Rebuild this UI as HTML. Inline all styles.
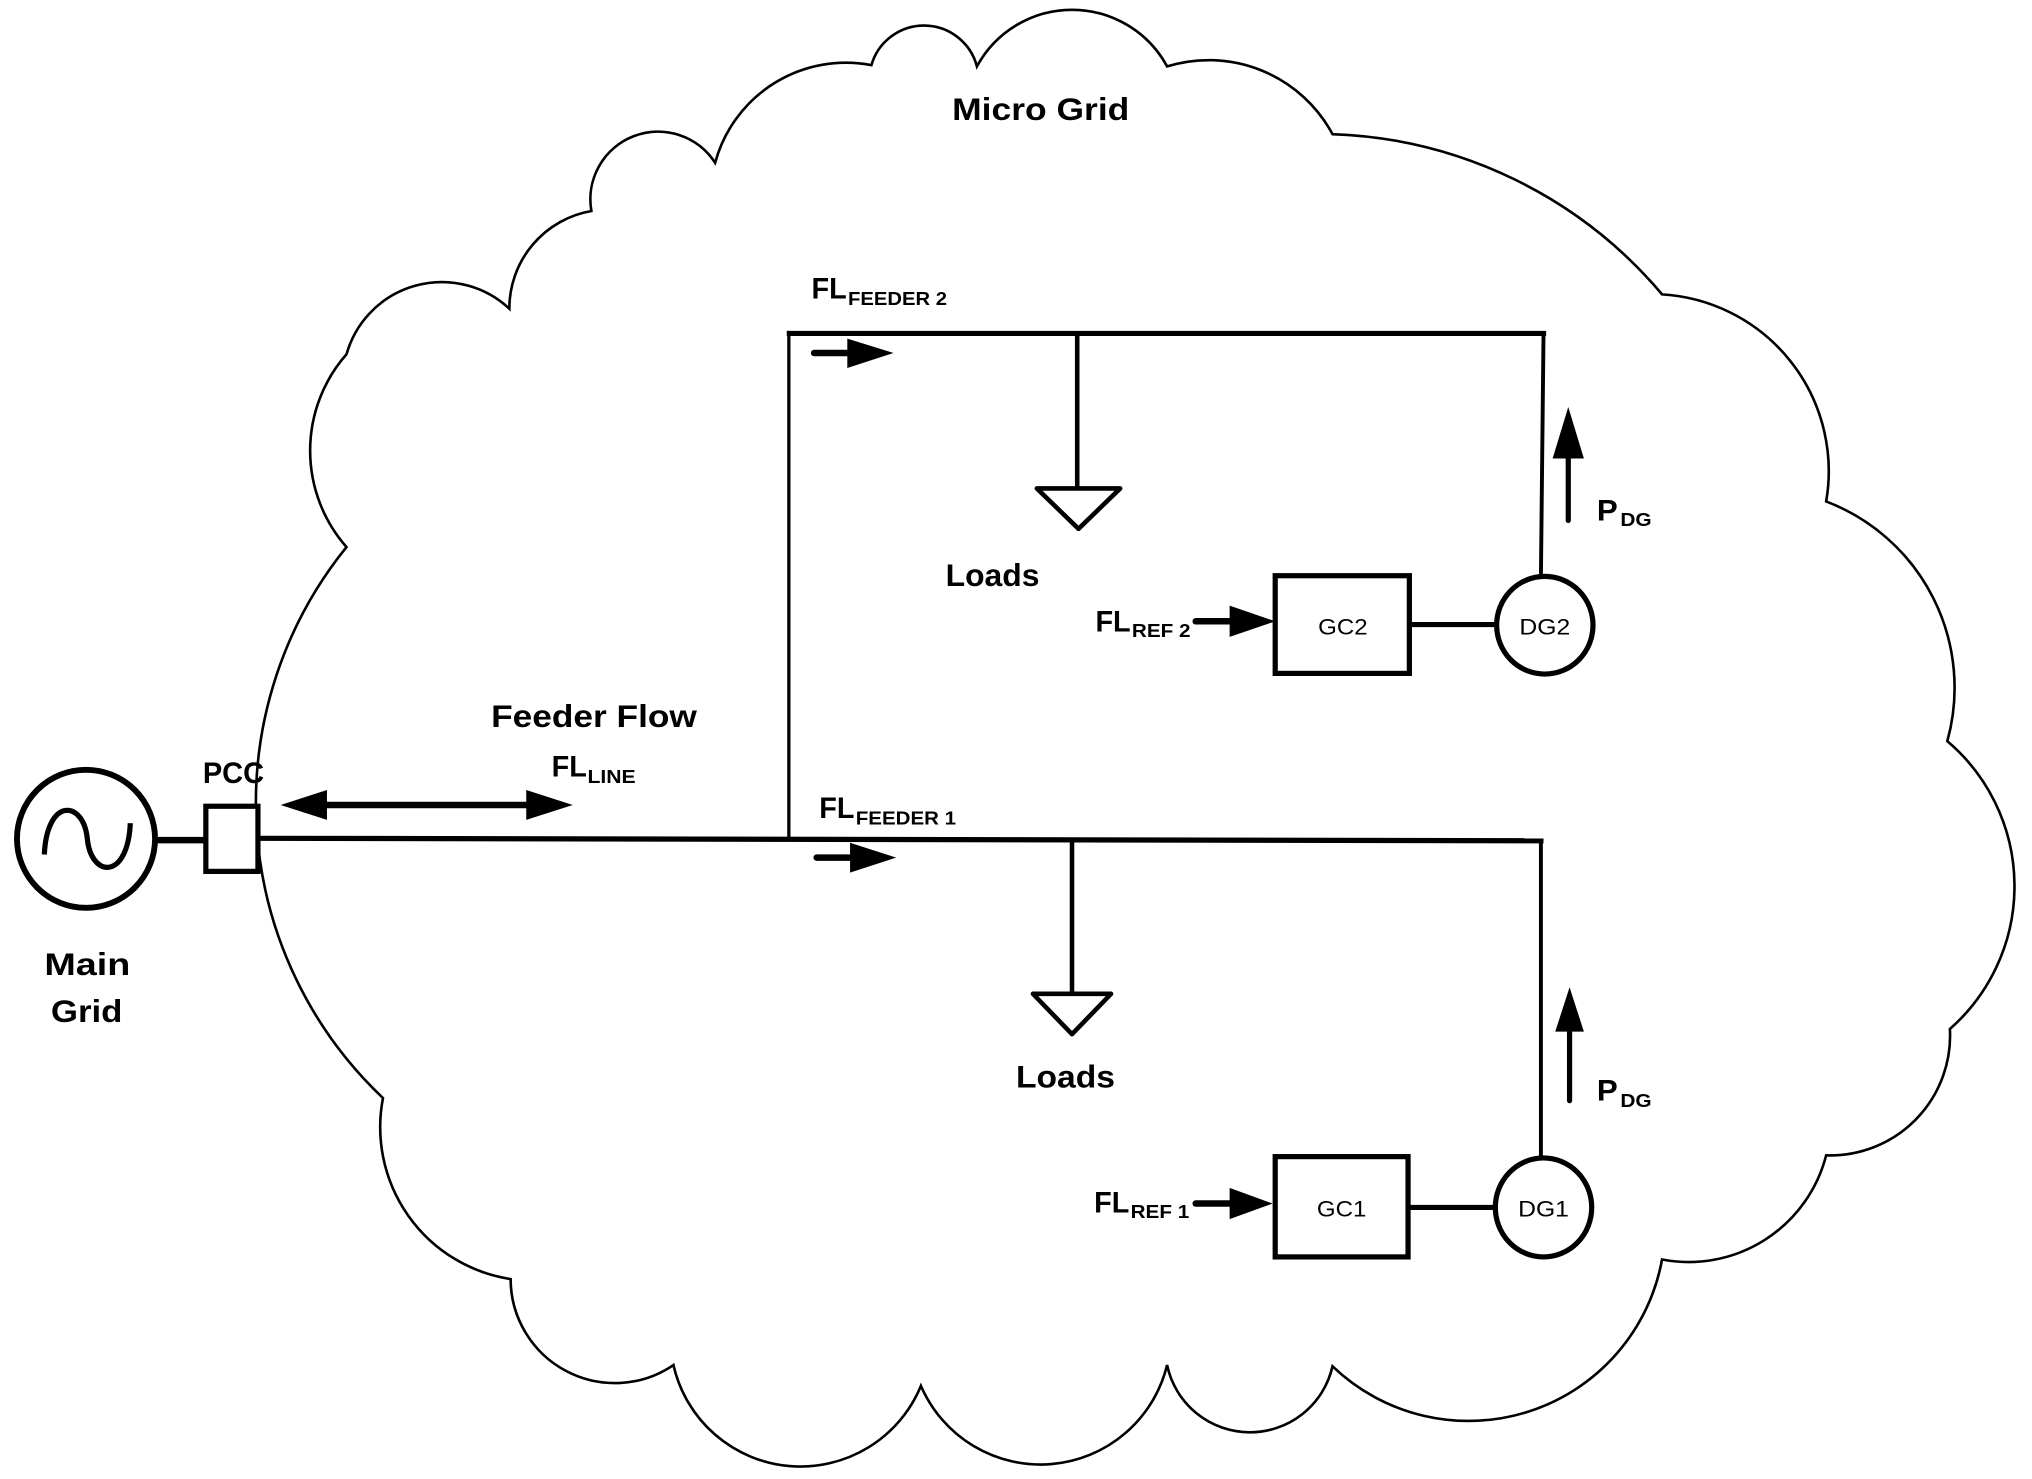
<!DOCTYPE html>
<html><head><meta charset="utf-8"><style>
html,body{margin:0;padding:0;background:#fff;}
svg{display:block;}
text{font-family:"Liberation Sans",sans-serif;font-weight:bold;fill:#000;}
.n{font-weight:normal;}
</style></head><body>
<svg width="2032" height="1479" viewBox="0 0 1560 1135.5" xmlns="http://www.w3.org/2000/svg">
<rect width="1560" height="1136" fill="#fff"/>
<path fill="none" stroke="#000" stroke-width="2" d="M294,843
A312,312 0 0 1 266,420
A112,112 0 0 1 266,272
A76,76 0 0 1 391,237
A76,76 0 0 1 454,162
A52,52 0 0 1 549,125
A104,104 0 0 1 669,50
A42,42 0 0 1 750,51
A83,83 0 0 1 896,51
A108,108 0 0 1 1023,103
A346,346 0 0 1 1276,226
A136,136 0 0 1 1402,385
A153,153 0 0 1 1495,569
A146,146 0 0 1 1497,790
A92,92 0 0 1 1402,887
A109,109 0 0 1 1276,967
A151,151 0 0 1 1023,1049
A65,65 0 0 1 896,1048
A100,100 0 0 1 707,1064
A100,100 0 0 1 517,1048
A80,80 0 0 1 392,982
A118,118 0 0 1 294,843 Z"/>

<!-- main grid -->
<circle cx="66" cy="644" r="53" fill="#fff" stroke="#000" stroke-width="4.5"/>
<path d="M34,656 C36,612 64,614 67,644 C70,674 98,676 100,632" fill="none" stroke="#000" stroke-width="4"/>
<line x1="119" y1="645" x2="158" y2="645" stroke="#000" stroke-width="5"/>
<rect x="158" y="619" width="40" height="50" fill="#fff" stroke="#000" stroke-width="4"/>
<line x1="198" y1="643.6" x2="1185" y2="645.5" stroke="#000" stroke-width="4"/>

<!-- feeder 2 -->
<line x1="605.6" y1="645" x2="605.6" y2="254" stroke="#000" stroke-width="2.5"/>
<line x1="604" y1="256" x2="1187" y2="256" stroke="#000" stroke-width="4"/>
<line x1="827" y1="256" x2="827" y2="375" stroke="#000" stroke-width="3.5"/>
<polygon points="796,375 860,375 828,406" fill="#fff" stroke="#000" stroke-width="3.5" stroke-linejoin="round"/>
<line x1="1185" y1="256" x2="1183" y2="443" stroke="#000" stroke-width="3"/>
<line x1="1204" y1="399.5" x2="1204" y2="348" stroke="#000" stroke-width="4" stroke-linecap="round"/>
<polygon points="1204,312.5 1192,352 1216,352" fill="#000"/>
<rect x="979" y="442" width="103" height="75" fill="#fff" stroke="#000" stroke-width="4"/>
<line x1="1082" y1="479.5" x2="1148" y2="479.5" stroke="#000" stroke-width="4"/>
<ellipse cx="1186" cy="480" rx="37" ry="37.5" fill="#fff" stroke="#000" stroke-width="4"/>
<line x1="918" y1="477" x2="946" y2="477" stroke="#000" stroke-width="5" stroke-linecap="round"/>
<polygon points="944,465 979,477 944,489" fill="#000"/>
<line x1="625" y1="271" x2="652" y2="271" stroke="#000" stroke-width="5" stroke-linecap="round"/>
<polygon points="650.5,260 686,271 650.5,282.5" fill="#000"/>

<!-- feeder 1 -->
<line x1="1183" y1="645" x2="1183" y2="889" stroke="#000" stroke-width="3"/>
<line x1="823" y1="645" x2="823" y2="763" stroke="#000" stroke-width="3.5"/>
<polygon points="793,763 853,763 823,794" fill="#fff" stroke="#000" stroke-width="3.5" stroke-linejoin="round"/>
<line x1="1205" y1="845" x2="1205" y2="788" stroke="#000" stroke-width="4" stroke-linecap="round"/>
<polygon points="1205,758 1194,792 1216,792" fill="#000"/>
<rect x="979" y="888" width="102" height="77" fill="#fff" stroke="#000" stroke-width="4"/>
<line x1="1081" y1="927" x2="1147" y2="927" stroke="#000" stroke-width="4"/>
<ellipse cx="1185" cy="927" rx="37" ry="38" fill="#fff" stroke="#000" stroke-width="4"/>
<line x1="918" y1="924" x2="946" y2="924" stroke="#000" stroke-width="5" stroke-linecap="round"/>
<polygon points="944,912 977,924 944,936" fill="#000"/>
<line x1="627" y1="658.4" x2="654" y2="658.4" stroke="#000" stroke-width="5" stroke-linecap="round"/>
<polygon points="652.6,647 688,658.4 652.6,670" fill="#000"/>

<!-- double arrow -->
<line x1="248" y1="618" x2="408" y2="618" stroke="#000" stroke-width="5"/>
<polygon points="215.4,618 251,606.5 251,629.5" fill="#000"/>
<polygon points="439.7,618 404,606.5 404,629.5" fill="#000"/>

<!-- text -->
<text x="731" y="92" font-size="24" textLength="136" lengthAdjust="spacingAndGlyphs">Micro Grid</text>

<text x="623" y="229" font-size="23" textLength="27" lengthAdjust="spacingAndGlyphs">FL</text>
<text x="651" y="234" font-size="14" textLength="76" lengthAdjust="spacingAndGlyphs">FEEDER 2</text>

<text x="726" y="450" font-size="24" textLength="72" lengthAdjust="spacingAndGlyphs">Loads</text>

<text x="1226" y="399.5" font-size="23" textLength="16" lengthAdjust="spacingAndGlyphs">P</text>
<text x="1244" y="404" font-size="14" textLength="24" lengthAdjust="spacingAndGlyphs">DG</text>

<text x="841" y="485" font-size="23" textLength="27" lengthAdjust="spacingAndGlyphs">FL</text>
<text x="869" y="489" font-size="14" textLength="45" lengthAdjust="spacingAndGlyphs">REF 2</text>
<text x="1012" y="487" font-size="17" class="n" textLength="38" lengthAdjust="spacingAndGlyphs">GC2</text>
<text x="1166.5" y="487" font-size="17" class="n" textLength="39" lengthAdjust="spacingAndGlyphs">DG2</text>

<text x="377" y="558" font-size="24" textLength="158" lengthAdjust="spacingAndGlyphs">Feeder Flow</text>
<text x="423.5" y="596" font-size="23" textLength="27" lengthAdjust="spacingAndGlyphs">FL</text>
<text x="451" y="601" font-size="14" textLength="37" lengthAdjust="spacingAndGlyphs">LINE</text>
<text x="155.7" y="601" font-size="23" textLength="47" lengthAdjust="spacingAndGlyphs">PCC</text>

<text x="629" y="628" font-size="23" textLength="27" lengthAdjust="spacingAndGlyphs">FL</text>
<text x="657" y="633" font-size="14" textLength="77" lengthAdjust="spacingAndGlyphs">FEEDER 1</text>

<text x="34" y="748.5" font-size="24" textLength="66" lengthAdjust="spacingAndGlyphs">Main</text>
<text x="39" y="784.5" font-size="24" textLength="55" lengthAdjust="spacingAndGlyphs">Grid</text>

<text x="780" y="835" font-size="24" textLength="76" lengthAdjust="spacingAndGlyphs">Loads</text>

<text x="1226" y="845" font-size="23" textLength="16" lengthAdjust="spacingAndGlyphs">P</text>
<text x="1244" y="850" font-size="14" textLength="24" lengthAdjust="spacingAndGlyphs">DG</text>

<text x="840" y="931" font-size="23" textLength="27" lengthAdjust="spacingAndGlyphs">FL</text>
<text x="868" y="935" font-size="14" textLength="45" lengthAdjust="spacingAndGlyphs">REF 1</text>
<text x="1011" y="934" font-size="17" class="n" textLength="38" lengthAdjust="spacingAndGlyphs">GC1</text>
<text x="1165.5" y="934" font-size="17" class="n" textLength="39" lengthAdjust="spacingAndGlyphs">DG1</text>
</svg>
</body></html>
